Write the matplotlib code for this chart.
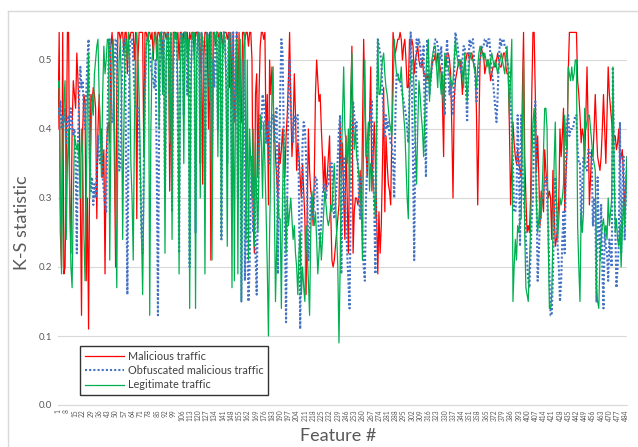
import numpy as np
import matplotlib.pyplot as plt
from matplotlib.lines import Line2D

# K-S statistic per feature (in hundredths), features 1..485
malicious = [
    40, 54, 25, 20, 54, 19, 20, 35, 54, 54,
    30, 22, 40, 47, 45, 43, 51, 47, 42, 30,
    13, 40, 45, 44, 18, 30, 11, 35, 45, 44,
    46, 45, 43, 27, 40, 45, 38, 40, 33, 37,
    19, 36, 40, 41, 38, 52, 54, 50, 35, 20,
    46, 54, 54, 53, 54, 54, 51, 54, 54, 48,
    54, 53, 54, 54, 54, 50, 54, 27, 50, 54,
    54, 54, 54, 36, 54, 54, 53, 54, 54, 53,
    54, 50, 54, 54, 52, 54, 54, 53, 54, 51,
    54, 54, 53, 54, 54, 31, 45, 33, 54, 54,
    54, 53, 54, 50, 54, 54, 52, 54, 53, 54,
    54, 51, 54, 53, 54, 54, 50, 54, 54, 53,
    54, 48, 54, 32, 50, 54, 54, 53, 40, 54,
    21, 30, 54, 54, 52, 54, 54, 53, 54, 54,
    51, 54, 54, 54, 53, 54, 46, 54, 43, 54,
    41, 45, 54, 42, 54, 44, 41, 54, 54, 53,
    54, 54, 52, 54, 54, 50, 27, 22, 45, 48,
    33, 45, 52, 54, 54, 53, 54, 38, 45, 29,
    50, 45, 49, 44, 40, 36, 33, 30, 38, 35,
    37, 40, 36, 33, 39, 42, 47, 54, 44, 36,
    40, 48, 42, 34, 38, 36, 33, 30, 35, 31,
    27, 16, 28, 40, 34, 31, 30, 26, 33, 45,
    50, 47, 44, 45, 40, 36, 31, 36, 31, 33,
    36, 39, 28, 21, 20, 21, 23, 25, 27, 29,
    41, 33, 38, 30, 24, 39, 30, 22, 36, 44,
    52, 22, 28, 30, 30, 29, 30, 34, 27, 40,
    53, 45, 37, 33, 38, 41, 49, 31, 36, 41,
    35, 28, 19, 28, 22, 26, 35, 46, 28, 39,
    35, 32, 31, 29, 40, 54, 52, 51, 52, 53,
    53, 54, 53, 50, 52, 53, 50, 46, 46, 53,
    52, 53, 52, 48, 50, 51, 52, 50, 49, 49,
    50, 48, 48, 47, 48, 47, 48, 47, 49, 50,
    50, 51, 49, 51, 50, 49, 48, 44, 36, 50,
    49, 51, 51, 50, 48, 40, 30, 44, 47, 48,
    49, 50, 50, 48, 45, 48, 50, 50, 51, 51,
    50, 51, 51, 50, 49, 49, 42, 29, 40, 50,
    52, 51, 51, 48, 49, 50, 50, 49, 47, 48,
    49, 49, 49, 50, 51, 50, 49, 49, 50, 51,
    51, 49, 48, 48, 40, 29, 35, 41, 38, 36,
    35, 37, 35, 34, 33, 45, 54, 36, 30, 25,
    26, 25, 30, 45, 54, 54, 45, 34, 39, 33,
    26, 31, 30, 28, 37, 34, 32, 30, 31, 30,
    24, 34, 29, 23, 24, 26, 30, 40, 36, 39,
    43, 28, 33, 37, 48, 54, 54, 54, 54, 54,
    54, 54, 47, 45, 42, 38, 40, 39, 35, 42,
    49, 40, 29, 33, 37, 36, 40, 45, 40, 36,
    35, 34, 36, 40, 45, 40, 35, 42, 49, 45,
    43, 41, 38, 39, 39, 37, 38, 40, 35, 36,
    37, 33, 28, 32, 36,
]

obfuscated = [
    43, 42, 44, 40, 42, 41, 43, 38, 41, 42,
    40, 43, 41, 39, 40, 35, 22, 38, 45, 49,
    46, 47, 42, 40, 45, 50, 53, 36, 31, 33,
    29, 32, 30, 34, 39, 36, 35, 39, 33, 31,
    29, 28, 40, 50, 53, 45, 41, 41, 48, 53,
    53, 40, 34, 34, 45, 50, 53, 53, 35, 16,
    40, 52, 53, 53, 50, 45, 43, 43, 43, 40,
    33, 25, 22, 35, 45, 52, 53, 53, 52, 49,
    48, 47, 46, 50, 35, 13, 40, 53, 54, 50,
    53, 30, 48, 54, 53, 45, 54, 28, 48, 53,
    54, 53, 40, 22, 50, 54, 53, 42, 54, 53,
    45, 53, 20, 48, 54, 53, 54, 25, 50, 54,
    53, 35, 54, 53, 48, 30, 52, 54, 53, 46,
    54, 35, 50, 46, 53, 54, 40, 53, 54, 24,
    50, 54, 53, 48, 35, 52, 54, 48, 28, 54,
    41, 46, 54, 30, 45, 50, 15, 35, 50, 18,
    30, 25, 15, 20, 30, 36, 25, 33, 22, 16,
    30, 38, 42, 40, 45, 44, 42, 38, 40, 41,
    35, 40, 42, 42, 38, 42, 43, 19, 35, 45,
    53, 51, 40, 25, 12, 30, 45, 50, 43, 40,
    38, 42, 41, 42, 42, 30, 11, 25, 38, 41,
    40, 36, 30, 21, 25, 30, 28, 27, 30, 33,
    33, 28, 25, 23, 27, 30, 32, 31, 30, 32,
    32, 34, 35, 35, 30, 27, 29, 32, 36, 40,
    42, 19, 30, 36, 31, 26, 22, 18, 14, 30,
    40, 44, 42, 40, 41, 35, 30, 27, 33, 25,
    20, 18, 30, 35, 38, 40, 42, 44, 35, 28,
    19, 40, 53, 52, 51, 50, 45, 42, 39, 42,
    40, 41, 39, 38, 38, 35, 30, 42, 48, 48,
    47, 47, 46, 45, 44, 43, 42, 40, 38, 45,
    54, 47, 35, 21, 40, 53, 52, 53, 52, 49,
    50, 52, 40, 33, 53, 50, 45, 47, 49, 50,
    52, 53, 53, 52, 51, 50, 52, 48, 44, 42,
    50, 53, 48, 45, 47, 44, 42, 48, 54, 53,
    52, 50, 49, 48, 50, 52, 52, 46, 41, 48,
    53, 52, 53, 53, 50, 47, 44, 47, 49, 50,
    51, 52, 52, 53, 53, 52, 53, 53, 50, 48,
    47, 45, 43, 41, 45, 50, 53, 52, 53, 53,
    52, 52, 50, 49, 48, 44, 40, 35, 28, 28,
    30, 42, 35, 23, 42, 35, 30, 28, 24, 21,
    18, 17, 22, 27, 30, 40, 44, 31, 18, 22,
    27, 29, 30, 31, 32, 33, 30, 26, 19, 13,
    13, 19, 28, 33, 29, 23, 20, 15, 18, 24,
    28, 22, 35, 41, 42, 39, 40, 40, 40, 41,
    42, 42, 37, 35, 35, 26, 32, 36, 35, 34,
    34, 37, 37, 36, 36, 26, 30, 29, 15, 33,
    25, 21, 29, 20, 14, 25, 23, 22, 18, 24,
    22, 20, 49, 35, 26, 17, 20, 23, 41, 22,
    30, 36, 24, 30, 36,
]

legitimate = [
    46, 47, 30, 19, 35, 44, 47, 24, 35, 40,
    30, 20, 17, 30, 39, 38, 37, 38, 35, 30,
    40, 36, 25, 18, 30, 45, 51, 30, 38, 45,
    42, 48, 50, 52, 53, 45, 40, 33, 45, 52,
    48, 50, 53, 53, 21, 40, 50, 53, 40, 28,
    17, 40, 50, 53, 45, 24, 40, 52, 53, 50,
    54, 48, 35, 30, 21, 40, 52, 54, 50, 45,
    35, 25, 16, 30, 45, 52, 53, 54, 13, 40,
    50, 52, 53, 54, 50, 53, 40, 54, 53, 45,
    54, 22, 50, 54, 53, 38, 54, 24, 50, 54,
    53, 54, 45, 19, 48, 54, 53, 35, 54, 54,
    50, 53, 14, 45, 54, 53, 54, 14, 50, 54,
    53, 30, 54, 53, 50, 19, 52, 54, 53, 44,
    54, 21, 50, 54, 53, 54, 36, 53, 54, 24,
    52, 54, 53, 46, 23, 52, 54, 45, 17, 50,
    18, 45, 53, 19, 50, 53, 15, 40, 52, 54,
    24, 50, 21, 40, 35, 30, 40, 23, 38, 30,
    25, 35, 42, 38, 30, 41, 35, 28, 20, 10,
    25, 35, 45, 49, 30, 15, 23, 30, 27, 27,
    14, 30, 40, 30, 22, 30, 26, 28, 30, 27,
    24, 26, 22, 20, 16, 22, 25, 16, 20, 17,
    15, 26, 22, 18, 13, 25, 31, 28, 26, 28,
    24, 19, 22, 25, 21, 24, 28, 31, 29, 27,
    26, 27, 29, 28, 32, 35, 30, 25, 20, 9,
    20, 35, 42, 49, 40, 38, 35, 40, 31, 45,
    51, 42, 37, 40, 36, 35, 33, 31, 29, 21,
    40, 50, 36, 38, 41, 31, 35, 34, 33, 30,
    27, 40, 53, 45, 45, 48, 50, 51, 48, 46,
    45, 43, 41, 40, 39, 45, 53, 50, 48, 48,
    47, 47, 49, 45, 42, 40, 35, 30, 27, 46,
    48, 50, 50, 45, 38, 32, 40, 47, 45, 42,
    40, 36, 42, 48, 51, 53, 44, 48, 50, 51,
    52, 52, 49, 46, 51, 47, 45, 48, 43, 51,
    50, 49, 49, 48, 47, 46, 47, 50, 53, 51,
    50, 49, 50, 50, 48, 46, 51, 48, 44, 47,
    50, 51, 50, 50, 49, 48, 46, 49, 51, 52,
    51, 51, 50, 51, 50, 49, 50, 48, 50, 51,
    50, 49, 50, 49, 48, 49, 50, 51, 50, 49,
    48, 50, 52, 48, 42, 48, 53, 15, 20, 24,
    21, 26, 25, 27, 27, 40, 50, 25, 17, 16,
    15, 20, 26, 35, 41, 43, 38, 29, 25, 27,
    30, 27, 32, 37, 43, 43, 40, 24, 14, 14,
    16, 25, 35, 41, 30, 24, 27, 30, 29, 30,
    32, 42, 38, 37, 49, 48, 47, 49, 47, 48,
    50, 50, 26, 20, 15, 28, 25, 28, 43, 40,
    41, 42, 42, 40, 38, 36, 35, 34, 17, 15,
    14, 21, 24, 26, 27, 25, 26, 24, 30, 26,
    28, 30, 49, 35, 25, 27, 24, 23, 26, 20,
    25, 30, 26, 30, 36,
]

series = [
    ("Malicious traffic", malicious, "#FF0000", "-", 0.9),
    ("Obfuscated malicious traffic", obfuscated, "#4472C4", (0, (1, 1)), 1.5),
    ("Legitimate traffic", legitimate, "#00B050", "-", 0.9),
]

n_features = len(malicious)
tick_pos = list(range(1, n_features + 1, 7))

plt.rcParams["font.family"] = ["Lato", "DejaVu Sans"]
GRAY = "#595959"
GRID = "#D9D9D9"

W, H = 638, 447
fig = plt.figure(figsize=(W / 100, H / 100), dpi=100)
ax = fig.add_axes([58 / W, 1 - 405 / H, (627 - 58) / W, 0.55 * 690 / H])

for label, vals, color, ls, lw in series:
    y = np.array(vals) / 100.0
    x = np.arange(1, len(y) + 1)
    ax.plot(x, y, color=color, linestyle=ls, lw=lw, label=label)

ax.set_xlim(1, n_features)
ax.set_ylim(0, 0.55)
ax.set_yticks(np.arange(0, 0.51, 0.1))
ax.set_yticklabels([f"{v:.1f}" for v in np.arange(0, 0.51, 0.1)])
ax.set_xticks(tick_pos)
ax.set_xticklabels([str(t) for t in tick_pos], rotation=90)
ax.tick_params(axis="y", length=0, labelsize=7, labelcolor=GRAY, pad=4)
ax.tick_params(axis="x", length=0, labelsize=4.8, labelcolor=GRAY, pad=3)
ax.grid(axis="y", color=GRID, lw=0.8)
ax.set_axisbelow(True)
for side in ("top", "right", "left"):
    ax.spines[side].set_visible(False)
ax.spines["bottom"].set_color(GRID)
ax.spines["bottom"].set_linewidth(0.8)

fig.text(22 / W, 1 - 223 / H, "K-S statistic", rotation=90, ha="center", va="center",
         fontsize=13, color=GRAY)
fig.text(338 / W, 1 - 436 / H, "Feature #", ha="center", va="center",
         fontsize=13, color=GRAY)

leg = ax.legend(loc="upper left", bbox_to_anchor=((80 - 58) / (627 - 58), (405 - 346) / (0.55 * 690)),
                frameon=True, fancybox=False, fontsize=7.8, handlelength=3.6,
                handletextpad=0.35, borderpad=0.45, labelspacing=0.3, borderaxespad=0)
leg.get_frame().set_edgecolor("black")
leg.get_frame().set_linewidth(1.0)
for t in leg.get_texts():
    t.set_color("#404040")

# chart-area border (top and left edges are inside the image)
fig.add_artist(Line2D([7.5 / W, 7.5 / W], [0, 1 - 10.5 / H], color=GRID, lw=1.0))
fig.add_artist(Line2D([7.5 / W, 1], [1 - 10.5 / H, 1 - 10.5 / H], color=GRID, lw=1.0))

fig.savefig("out.png", dpi=100)
